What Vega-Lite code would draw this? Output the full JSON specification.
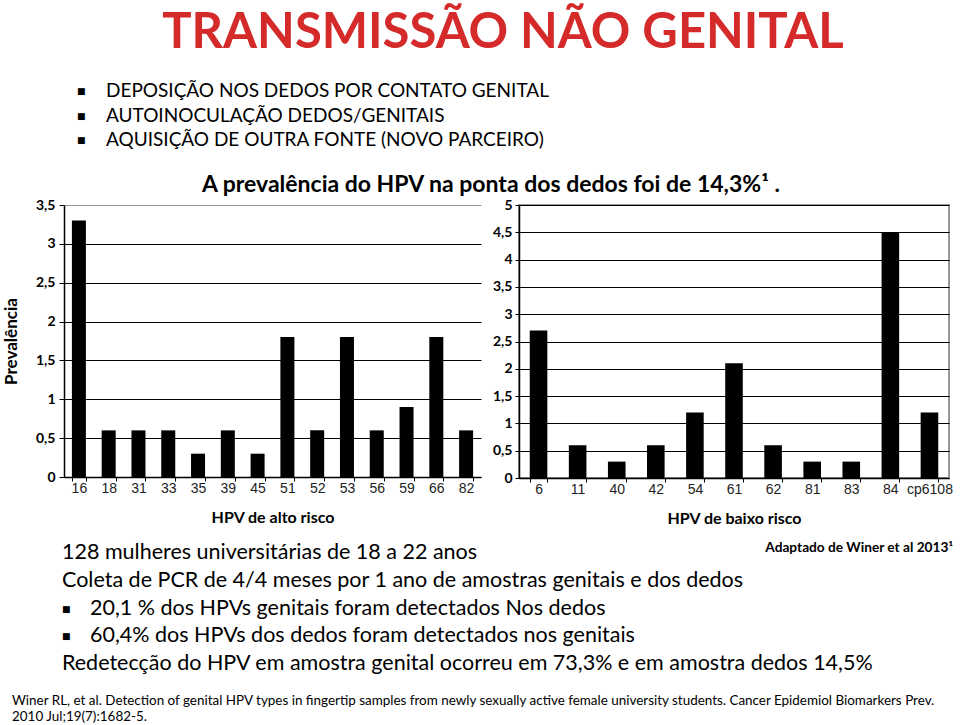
{
  "$schema": "https://vega.github.io/schema/vega-lite/v6.json",
  "background": "white",
  "padding": {"left": 2, "top": 9, "right": 0, "bottom": 0},
  "config": {"view": {"stroke": null}, "font": "Lato"},
  "spacing": 0,
  "vconcat": [
    {
      "width": 894,
      "height": 110,
      "title": {"text": "TRANSMISSÃO NÃO GENITAL", "font": "Lato", "fontSize": 49, "fontWeight": "bold", "color": "#d42a2a", "anchor": "middle", "dx": -8, "offset": 6},
      "layer": [
        {
          "data": {"values": [
            {"line": 1, "col": "c", "text": "DEPOSIÇÃO NOS DEDOS POR CONTATO GENITAL"},
            {"line": 2, "col": "c", "text": "AUTOINOCULAÇÃO DEDOS/GENITAIS"},
            {"line": 3, "col": "c", "text": "AQUISIÇÃO DE OUTRA FONTE (NOVO PARCEIRO)"}
          ]},
          "mark": {"type": "text", "align": "left", "baseline": "middle", "font": "Lato", "fontSize": 19, "color": "black"},
          "encoding": {
            "y": {"field": "line", "type": "ordinal", "axis": null, "scale": {"type": "point", "domain": [1, 2, 3], "range": [27, 76], "padding": 0}},
            "x": {"field": "col", "type": "nominal", "axis": null, "scale": {"type": "point", "domain": ["a", "c"], "range": [13, 42], "padding": 0}},
            "text": {"field": "text"}
          }
        },
        {
          "data": {"values": [
            {"line": 1, "col": "a", "text": "■"},
            {"line": 2, "col": "a", "text": "■"},
            {"line": 3, "col": "a", "text": "■"}
          ]},
          "mark": {"type": "text", "align": "left", "baseline": "middle", "font": "DejaVu Sans", "fontSize": 9, "color": "black"},
          "encoding": {
            "y": {"field": "line", "type": "ordinal", "axis": null},
            "x": {"field": "col", "type": "nominal", "axis": null},
            "text": {"field": "text"}
          }
        }
      ]
    },
    {
      "title": {"text": "A prevalência do HPV na ponta dos dedos foi de 14,3%¹ .", "font": "Lato", "fontSize": 23, "fontWeight": "bold", "color": "black", "anchor": "middle", "dx": 13, "offset": 0},
      "spacing": 10,
      "hconcat": [
        {
          "width": 417,
          "height": 272,
          "data": {"values": [
            {"tipo": "16", "prev": 3.3}, {"tipo": "18", "prev": 0.6}, {"tipo": "31", "prev": 0.6},
            {"tipo": "33", "prev": 0.6}, {"tipo": "35", "prev": 0.3}, {"tipo": "39", "prev": 0.6},
            {"tipo": "45", "prev": 0.3}, {"tipo": "51", "prev": 1.8}, {"tipo": "52", "prev": 0.6},
            {"tipo": "53", "prev": 1.8}, {"tipo": "56", "prev": 0.6}, {"tipo": "59", "prev": 0.9},
            {"tipo": "66", "prev": 1.8}, {"tipo": "82", "prev": 0.6}
          ]},
          "mark": {"type": "bar", "color": "black"},
          "encoding": {
            "x": {"field": "tipo", "type": "nominal", "sort": null, "title": "HPV de alto risco",
              "scale": {"paddingInner": 0.53, "paddingOuter": 0.265},
              "axis": {"labelAngle": 0, "labelFont": "Liberation Sans", "labelFontSize": 14, "labelColor": "#222", "labelPadding": 0,
                "tickBand": "extent", "tickSize": 4, "tickColor": "black", "domainColor": "black", "domainWidth": 1.5,
                "titleFont": "Lato", "titleFontSize": 16, "titleFontWeight": "bold", "titleColor": "black", "titlePadding": 14}},
            "y": {"field": "prev", "type": "quantitative", "title": "Prevalência",
              "scale": {"domain": [0, 3.5], "nice": false},
              "axis": {"values": [0, 0.5, 1, 1.5, 2, 2.5, 3, 3.5], "labelExpr": "replace(format(datum.value, '~g'), '.', ',')",
                "labelFont": "Lato", "labelFontSize": 14, "labelFontWeight": "bold", "labelColor": "black", "labelPadding": 4,
                "tickSize": 5, "tickColor": "black", "domainColor": "black", "domainWidth": 1.5,
                "grid": true, "gridColor": {"condition": {"test": "datum.value == 3.5", "value": "#999"}, "value": "black"}, "gridWidth": 1.2,
                "titleFont": "Lato", "titleFontSize": 17, "titleFontWeight": "bold", "titleColor": "black", "titlePadding": 15}}
          }
        },
        {
          "width": 430,
          "height": 273,
          "view": {"stroke": "#999", "strokeWidth": 2},
          "data": {"values": [
            {"tipo": "6", "prev": 2.7}, {"tipo": "11", "prev": 0.6}, {"tipo": "40", "prev": 0.3},
            {"tipo": "42", "prev": 0.6}, {"tipo": "54", "prev": 1.2}, {"tipo": "61", "prev": 2.1},
            {"tipo": "62", "prev": 0.6}, {"tipo": "81", "prev": 0.3}, {"tipo": "83", "prev": 0.3},
            {"tipo": "84", "prev": 4.5}, {"tipo": "cp6108", "prev": 1.2}
          ]},
          "mark": {"type": "bar", "color": "black"},
          "encoding": {
            "x": {"field": "tipo", "type": "nominal", "sort": null, "title": "HPV de baixo risco",
              "scale": {"paddingInner": 0.55, "paddingOuter": 0.275},
              "axis": {"labelAngle": 0, "labelFont": "Liberation Sans", "labelFontSize": 14, "labelColor": "#222", "labelPadding": 0,
                "tickBand": "extent", "tickSize": 4, "tickColor": "black", "domainColor": "black", "domainWidth": 1.5,
                "titleFont": "Lato", "titleFontSize": 16, "titleFontWeight": "bold", "titleColor": "black", "titlePadding": 14}},
            "y": {"field": "prev", "type": "quantitative", "title": null,
              "scale": {"domain": [0, 5], "nice": false},
              "axis": {"values": [0, 0.5, 1, 1.5, 2, 2.5, 3, 3.5, 4, 4.5, 5], "labelExpr": "replace(format(datum.value, '~g'), '.', ',')",
                "labelFont": "Lato", "labelFontSize": 14, "labelFontWeight": "bold", "labelColor": "black", "labelPadding": 3,
                "tickSize": 4, "tickColor": "black", "domainColor": "black", "domainWidth": 1.5,
                "grid": true, "gridColor": "black", "gridWidth": 1.2}}
          }
        }
      ]
    },
    {
      "width": 894,
      "height": 195,
      "layer": [
        {
          "layer": [
            {
              "data": {"values": [
                {"line": 1, "col": "a", "text": "128 mulheres universitárias de 18 a 22 anos"},
                {"line": 2, "col": "a", "text": "Coleta de PCR de 4/4 meses por 1 ano de amostras genitais e dos dedos"},
                {"line": 3, "col": "c", "text": "20,1 % dos HPVs genitais foram detectados Nos dedos"},
                {"line": 4, "col": "c", "text": "60,4% dos HPVs dos dedos foram detectados nos genitais"},
                {"line": 5, "col": "a", "text": "Redetecção do HPV em amostra genital ocorreu em 73,3% e em amostra dedos 14,5%"}
              ]},
              "mark": {"type": "text", "align": "left", "baseline": "middle", "font": "Lato", "fontSize": 21.5, "color": "black"},
              "encoding": {
                "y": {"field": "line", "type": "ordinal", "axis": null, "scale": {"type": "point", "domain": [1, 2, 3, 4, 5], "range": [26, 137], "padding": 0}},
                "x": {"field": "col", "type": "nominal", "axis": null, "scale": {"type": "point", "domain": ["a", "c"], "range": [-2, 26], "padding": 0}},
                "text": {"field": "text"}
              }
            },
            {
              "data": {"values": [
                {"line": 3, "col": "a", "text": "■"},
                {"line": 4, "col": "a", "text": "■"}
              ]},
              "mark": {"type": "text", "align": "left", "baseline": "middle", "font": "DejaVu Sans", "fontSize": 9, "color": "black"},
              "encoding": {
                "y": {"field": "line", "type": "ordinal", "axis": null},
                "x": {"field": "col", "type": "nominal", "axis": null},
                "text": {"field": "text"}
              }
            }
          ]
        },
        {
          "data": {"values": [{"line": 1, "col": "r", "text": "Adaptado de Winer et al 2013¹"}]},
          "mark": {"type": "text", "align": "right", "baseline": "middle", "font": "Lato", "fontSize": 13.7, "fontWeight": "bold", "color": "black"},
          "encoding": {
            "y": {"field": "line", "type": "ordinal", "axis": null, "scale": {"type": "point", "domain": [1], "range": [21, 21], "padding": 0}},
            "x": {"field": "col", "type": "nominal", "axis": null, "scale": {"type": "point", "domain": ["r"], "range": [889, 889], "padding": 0}},
            "text": {"field": "text"}
          }
        },
        {
          "data": {"values": [
            {"line": 1, "col": "c", "text": "Winer RL, et al. Detection of genital HPV types in fingertip samples from newly sexually active female university students. Cancer Epidemiol Biomarkers Prev."},
            {"line": 2, "col": "c", "text": "2010 Jul;19(7):1682-5."}
          ]},
          "mark": {"type": "text", "align": "left", "baseline": "middle", "font": "Lato", "fontSize": 13.45, "color": "black"},
          "encoding": {
            "y": {"field": "line", "type": "ordinal", "axis": null, "scale": {"type": "point", "domain": [1, 2], "range": [174, 190], "padding": 0}},
            "x": {"field": "col", "type": "nominal", "axis": null, "scale": {"type": "point", "domain": ["c"], "range": [-52, -52], "padding": 0}},
            "text": {"field": "text"}
          }
        }
      ],
      "resolve": {"scale": {"x": "independent", "y": "independent"}}
    }
  ]
}
